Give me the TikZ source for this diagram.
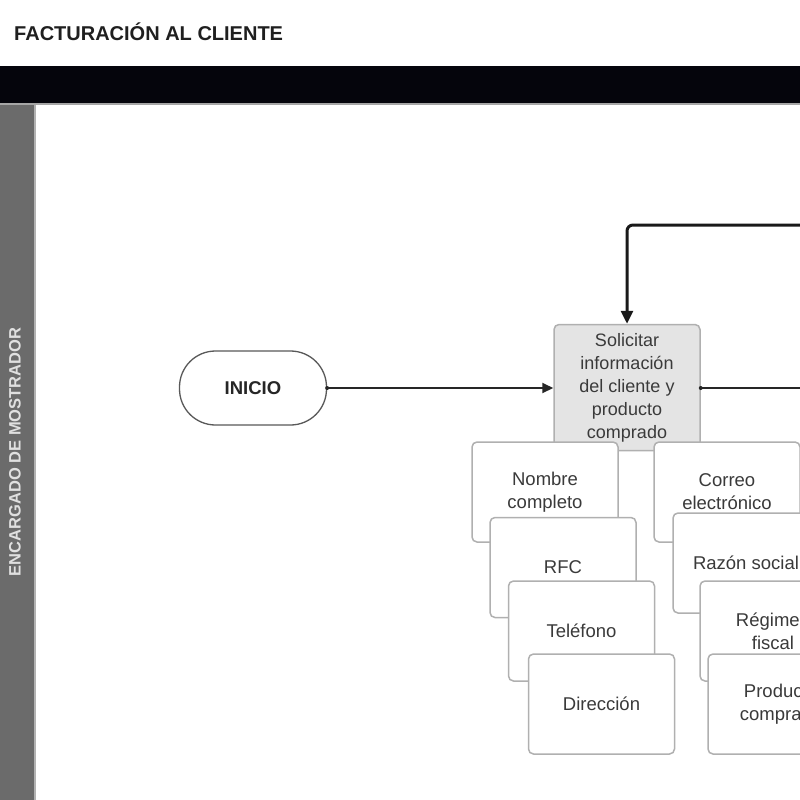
\documentclass[tikz,border=0pt]{standalone}
\usepackage{fontspec}
\setmainfont{Liberation Sans}
\usetikzlibrary{arrows.meta}
\definecolor{cardline}{HTML}{B0B0B0}
\definecolor{cardtext}{HTML}{3A3A3A}
\definecolor{lanegray}{HTML}{6B6B6B}
\definecolor{procfill}{HTML}{E4E4E4}
\definecolor{barblack}{HTML}{05050C}
\tikzset{
  card/.style={draw=cardline, line width=1.5pt, rounded corners=5pt, fill=white,
    minimum width=146pt, minimum height=100pt, align=center, text=cardtext,
    font=\fontsize{18.5}{23}\selectfont, inner sep=0pt},
  proc/.style={card, fill=procfill, minimum height=126pt, font=\fontsize{18}{23}\selectfont},
  term/.style={draw=black!65, line width=1.3pt, rounded corners=36pt, fill=white,
    minimum width=147pt, minimum height=74pt, font=\bfseries\fontsize{18.5}{22}\selectfont,
    text=black!85, inner sep=0pt},
  flow/.style={line width=2pt, draw=black!85, -{Triangle[length=11pt,width=10pt]}},
  loopflow/.style={line width=3pt, draw=black!90, rounded corners=6pt, -{Triangle[length=13pt,width=12pt]}},
  plain/.style={line width=2pt, draw=black!85},
}
\begin{document}
\begin{tikzpicture}[x=1pt,y=-1pt]
\useasboundingbox (0,0) rectangle (800,800);
\clip (0,0) rectangle (800,800);
\fill[white] (0,0) rectangle (800,800);
% title
\node[anchor=west, font=\bfseries\fontsize{20}{22}\selectfont, text=black!88, inner sep=0pt] (title) at (14,32) {FACTURACIÓN AL CLIENTE};
% header bar
\fill[barblack] (0,66) rectangle (800,103);
\fill[black!35] (0,103) rectangle (800,105);
% lane
\fill[lanegray] (0,105) rectangle (34,800);
\fill[black!30] (34,105) rectangle (35.5,800);
\node[rotate=90, font=\bfseries\fontsize{16.5}{20}\selectfont, text=black!12, inner sep=0pt] (lane) at (15,452) {ENCARGADO DE MOSTRADOR};
% nodes
\node[term] (inicio) at (253,388) {INICIO};
\node[proc] (sol) at (627,387.5) {Solicitar\\información\\del cliente y\\producto\\comprado};
% left stack
\node[card] (nombre) at (545,492) {Nombre\\completo};
\node[card] (rfc) at (563,567.5) {RFC};
\node[card] (tel) at (581.5,631) {Teléfono};
\node[card] (dir) at (601.5,704) {Dirección};
% right stack
\node[card] (correo) at (727,492) {Correo\\electrónico};
\node[card] (razon) at (746,563) {Razón social};
\node[card] (regimen) at (773,631) {Régimen\\fiscal};
\node[card] (producto) at (781,704) {Producto\\comprado};
% connectors
\coordinate (loopin) at (810,225);
\coordinate (outright) at (810,388);
\draw[flow] (inicio.east) -- (inicio.east -| sol.west);
\fill[black!85] (inicio.east) circle (2pt);
\draw[plain] (sol.east |- outright) -- (outright);
\fill[black!85] (sol.east |- outright) circle (2pt);
\draw[loopflow] (loopin) -| (sol.north);
\end{tikzpicture}
\end{document}
